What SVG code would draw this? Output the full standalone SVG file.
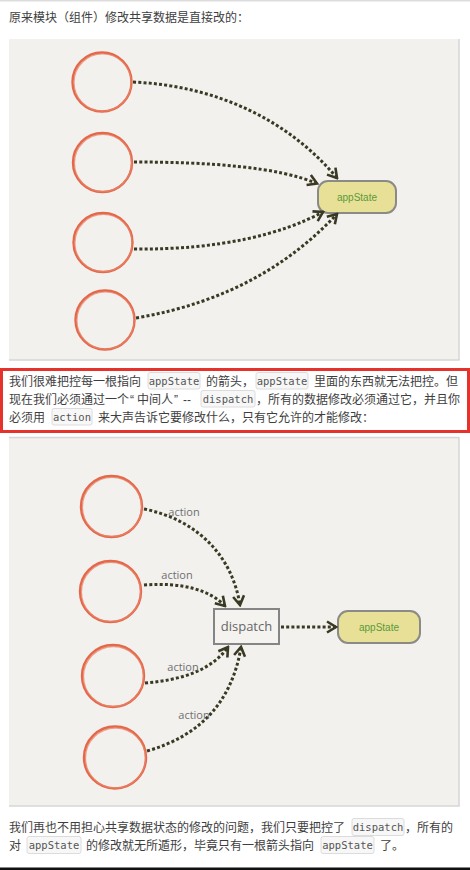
<svg xmlns="http://www.w3.org/2000/svg" width="470" height="870" viewBox="0 0 470 870">
<defs>
<style>
.t{font-family:"Noto Sans CJK SC","Liberation Sans",sans-serif;font-size:12px;fill:#3e3e3e}
.q{font-family:"Liberation Sans",Arial,sans-serif;font-size:12px;fill:#3e3e3e}
.chip{fill:#f7f7f7;stroke:#dcdcdc;stroke-width:1}
.code{font-family:"DejaVu Sans Mono","Liberation Mono",monospace;font-size:10.5px;fill:#555;text-anchor:middle}
.panel{fill:#f2f1ed}
.edge{stroke:#d6d6d6;stroke-width:1.5}
.circ{fill:none;stroke:#e4674a;stroke-width:2.4}
.circ2{fill:none;stroke:#e98468;stroke-width:1.3;opacity:.75}
.state{fill:#e8e097;stroke:#8a8a86;stroke-width:2}
.stxt{font-family:"Liberation Sans",Arial,sans-serif;font-size:10px;fill:#5a9a3c;text-anchor:middle}
.conn{fill:none;stroke:#3a3a24;stroke-width:3;stroke-dasharray:3 2.2}
.lbl{font-family:"Open Sans","DejaVu Sans",sans-serif;font-size:11px;fill:#6f6f70;text-anchor:middle}
.dbox{fill:#f4f3f0;stroke:#858585;stroke-width:2}
.dtxt{font-family:"Open Sans","DejaVu Sans",sans-serif;font-size:13px;fill:#666;text-anchor:middle}
</style>
<marker id="ah" viewBox="-11 -7 13 14" markerWidth="13" markerHeight="14" refX="0" refY="0" orient="auto" markerUnits="userSpaceOnUse">
<path d="M-9,-5.5 L0,0 L-9,5.5" fill="none" stroke="#3a3a24" stroke-width="2.6" stroke-linejoin="miter"/>
</marker>
</defs>
<rect x="0" y="0" width="470" height="870" fill="#ffffff"/>
<line x1="0" y1="0.7" x2="470" y2="0.7" stroke="#dddddd" stroke-width="1.5"/>
<text class="t" x="9" y="22">原来模块（组件）修改共享数据是直接改的：</text>

<!-- panel 1 -->
<rect class="panel" x="9" y="39" width="450" height="321"/>
<line class="edge" x1="459" y1="39" x2="459" y2="360"/>
<line class="edge" x1="9" y1="360" x2="459.7" y2="360"/>

<g id="p1-c1"><circle class="circ" cx="102" cy="82" r="29.5"/><circle class="circ2" cx="102.6" cy="82.5" r="28.6"/></g>
<g id="p1-c2"><circle class="circ" cx="102.5" cy="162.5" r="29.5"/><circle class="circ2" cx="103" cy="163" r="28.6"/></g>
<g id="p1-c3"><circle class="circ" cx="103" cy="242.5" r="29.5"/><circle class="circ2" cx="103.5" cy="243" r="28.6"/></g>
<g id="p1-c4"><circle class="circ" cx="105" cy="320" r="29.5"/><circle class="circ2" cx="105.5" cy="320.5" r="28.6"/></g>
<g id="p1-appState"><rect class="state" x="318" y="181" width="78" height="32" rx="10"/><text class="stxt" x="357" y="200.5">appState</text></g>

<g id="p1-connectors">
<path class="conn" d="M133,82 C220,86 290,122 337,178" marker-end="url(#ah)"/>
<path class="conn" d="M134,162 C210,162 278,167 317,183.5" marker-end="url(#ah)"/>
<path class="conn" d="M134,249 C220,250 282,234 323,212" marker-end="url(#ah)"/>
<path class="conn" d="M136,318 C230,302 292,262 337,214" marker-end="url(#ah)"/>
</g>

<!-- red box text -->
<rect x="1.5" y="369.5" width="467" height="62" fill="none" stroke="#e5322a" stroke-width="3"/>
<rect class="chip" x="148" y="372.5" width="52" height="16.5" rx="2"/>
<rect class="chip" x="256" y="372.5" width="52" height="16.5" rx="2"/>
<rect class="chip" x="201" y="390.5" width="54" height="16.5" rx="2"/>
<rect class="chip" x="52" y="408.5" width="40" height="16.5" rx="2"/>
<text class="t" x="9" y="385.5">我们很难把控每一根指向</text>
<text class="code" x="174" y="384.5">appState</text>
<text class="t" x="206" y="385.5">的箭头，</text>
<text class="code" x="282" y="384.5">appState</text>
<text class="t" x="314" y="385.5">里面的东西就无法把控。但</text>
<text class="t" x="9" y="403.5">现在我们必须通过一个</text>
<text class="q" x="130" y="403.5">“</text>
<text class="t" x="137" y="403.5">中间人</text>
<text class="q" x="174" y="403.5">”</text>
<text class="q" x="183" y="403.5">--</text>
<text class="code" x="228" y="402.5">dispatch</text>
<text class="t" x="256" y="403.5">，所有的数据修改必须通过它，并且你</text>
<text class="t" x="9" y="421.5">必须用</text>
<text class="code" x="72" y="420.5">action</text>
<text class="t" x="98" y="421.5">来大声告诉它要修改什么，只有它允许的才能修改：</text>

<!-- panel 2 -->
<rect class="panel" x="9" y="437" width="450" height="369"/>
<line class="edge" x1="9" y1="437.5" x2="459" y2="437.5"/>
<line class="edge" x1="459" y1="437" x2="459" y2="806"/>
<line class="edge" x1="9" y1="806" x2="459.7" y2="806"/>

<g id="p2-c1"><circle class="circ" cx="111.5" cy="506.5" r="30.5"/><circle class="circ2" cx="112" cy="507" r="29.6"/></g>
<g id="p2-c2"><circle class="circ" cx="110.5" cy="591.5" r="30.5"/><circle class="circ2" cx="111" cy="592" r="29.6"/></g>
<g id="p2-c3"><circle class="circ" cx="113" cy="676" r="31"/><circle class="circ2" cx="113.5" cy="676.5" r="30"/></g>
<g id="p2-c4"><circle class="circ" cx="115" cy="757.5" r="31"/><circle class="circ2" cx="115.5" cy="758" r="30"/></g>
<g id="p2-dispatch"><rect class="dbox" x="214" y="609" width="65" height="35"/><text class="dtxt" x="246.5" y="630.5">dispatch</text></g>
<g id="p2-appState"><rect class="state" x="338" y="611" width="82" height="32" rx="10"/><text class="stxt" x="379" y="630.5">appState</text></g>

<g id="p2-connectors">
<path class="conn" d="M144,509 C198,520 232,556 240,605" marker-end="url(#ah)"/>
<path class="conn" d="M144,585 C182,582 210,590 225,606" marker-end="url(#ah)"/>
<path class="conn" d="M145,683 C182,680 212,670 228,647" marker-end="url(#ah)"/>
<path class="conn" d="M147,751 C200,736 232,702 241,647" marker-end="url(#ah)"/>
<path class="conn" d="M281,627 L336,627" marker-end="url(#ah)"/>
<text class="lbl" x="184" y="516">action</text>
<text class="lbl" x="177" y="579">action</text>
<text class="lbl" x="183" y="671">action</text>
<text class="lbl" x="194" y="719">action</text>
</g>

<!-- bottom text -->
<rect class="chip" x="352" y="818.5" width="52" height="17" rx="2"/>
<rect class="chip" x="27" y="836.5" width="54" height="17" rx="2"/>
<rect class="chip" x="321" y="836.5" width="53" height="17" rx="2"/>
<text class="t" x="9" y="832">我们再也不用担心共享数据状态的修改的问题，我们只要把控了</text>
<text class="code" x="378" y="831">dispatch</text>
<text class="t" x="405" y="832">，所有的</text>
<text class="t" x="9" y="850">对</text>
<text class="code" x="54" y="849">appState</text>
<text class="t" x="86" y="850">的修改就无所遁形，毕竟只有一根箭头指向</text>
<text class="code" x="347.5" y="849">appState</text>
<text class="t" x="380" y="850">了。</text>
<rect x="0" y="867.5" width="470" height="2.5" fill="#111"/>
</svg>
